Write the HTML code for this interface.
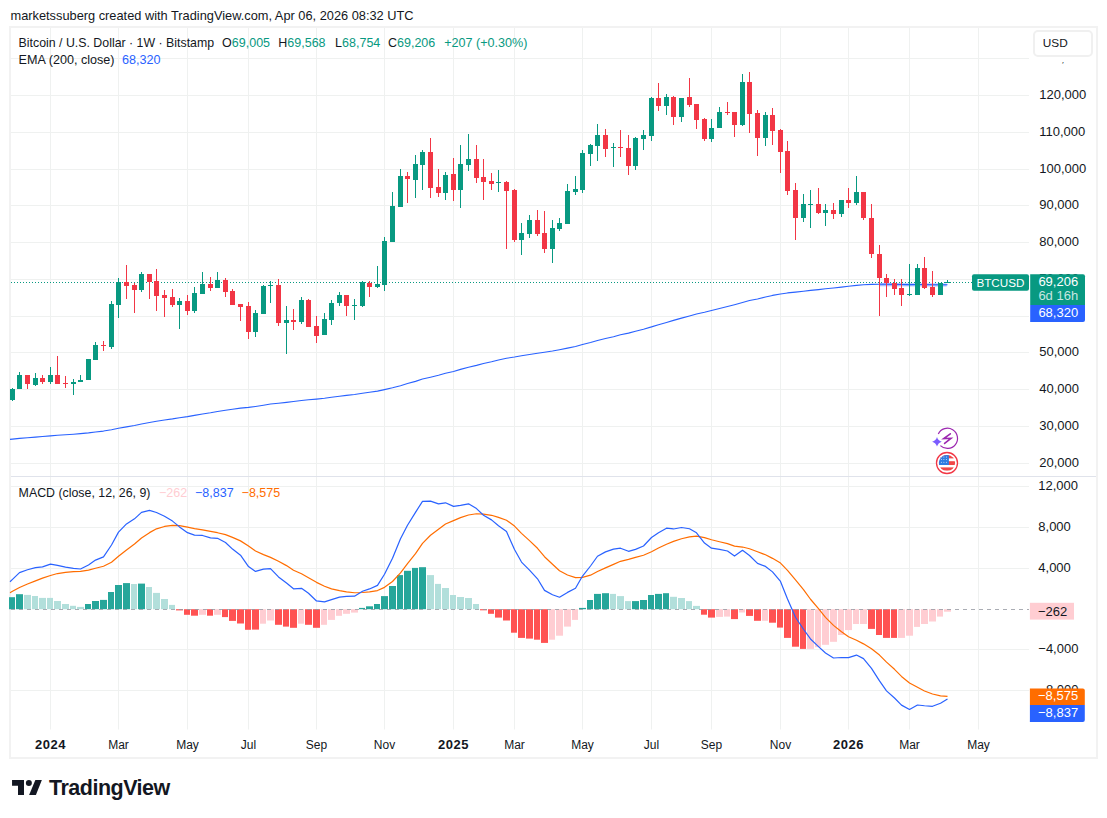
<!DOCTYPE html>
<html><head><meta charset="utf-8">
<style>
html,body{margin:0;padding:0;background:#fff;}
body{width:1107px;height:818px;position:relative;overflow:hidden;font-family:"Liberation Sans",sans-serif;}
.t{position:absolute;white-space:nowrap;line-height:1;}
#frame{position:absolute;left:9px;top:26px;width:1089px;height:733px;box-sizing:border-box;border:2px solid #f2f2f2;}
svg{position:absolute;left:0;top:0;}
</style></head><body>
<div id="frame"></div>
<svg width="1107" height="818" viewBox="0 0 1107 818">
<line x1="50.5" y1="28" x2="50.5" y2="729.5" stroke="#eff1f0" stroke-width="1"/>
<line x1="118.5" y1="28" x2="118.5" y2="729.5" stroke="#eff1f0" stroke-width="1"/>
<line x1="187.5" y1="28" x2="187.5" y2="729.5" stroke="#eff1f0" stroke-width="1"/>
<line x1="248.5" y1="28" x2="248.5" y2="729.5" stroke="#eff1f0" stroke-width="1"/>
<line x1="316.5" y1="28" x2="316.5" y2="729.5" stroke="#eff1f0" stroke-width="1"/>
<line x1="384.5" y1="28" x2="384.5" y2="729.5" stroke="#eff1f0" stroke-width="1"/>
<line x1="453.5" y1="28" x2="453.5" y2="729.5" stroke="#eff1f0" stroke-width="1"/>
<line x1="514.5" y1="28" x2="514.5" y2="729.5" stroke="#eff1f0" stroke-width="1"/>
<line x1="582.5" y1="28" x2="582.5" y2="729.5" stroke="#eff1f0" stroke-width="1"/>
<line x1="651.5" y1="28" x2="651.5" y2="729.5" stroke="#eff1f0" stroke-width="1"/>
<line x1="711.5" y1="28" x2="711.5" y2="729.5" stroke="#eff1f0" stroke-width="1"/>
<line x1="780.5" y1="28" x2="780.5" y2="729.5" stroke="#eff1f0" stroke-width="1"/>
<line x1="848.5" y1="28" x2="848.5" y2="729.5" stroke="#eff1f0" stroke-width="1"/>
<line x1="909.5" y1="28" x2="909.5" y2="729.5" stroke="#eff1f0" stroke-width="1"/>
<line x1="978.5" y1="28" x2="978.5" y2="729.5" stroke="#eff1f0" stroke-width="1"/>
<line x1="11" y1="58.5" x2="1029" y2="58.5" stroke="#eff1f0" stroke-width="1"/>
<line x1="11" y1="95.5" x2="1029" y2="95.5" stroke="#eff1f0" stroke-width="1"/>
<line x1="11" y1="132.5" x2="1029" y2="132.5" stroke="#eff1f0" stroke-width="1"/>
<line x1="11" y1="169.5" x2="1029" y2="169.5" stroke="#eff1f0" stroke-width="1"/>
<line x1="11" y1="205.5" x2="1029" y2="205.5" stroke="#eff1f0" stroke-width="1"/>
<line x1="11" y1="242.5" x2="1029" y2="242.5" stroke="#eff1f0" stroke-width="1"/>
<line x1="11" y1="279.5" x2="1029" y2="279.5" stroke="#eff1f0" stroke-width="1"/>
<line x1="11" y1="316.5" x2="1029" y2="316.5" stroke="#eff1f0" stroke-width="1"/>
<line x1="11" y1="352.5" x2="1029" y2="352.5" stroke="#eff1f0" stroke-width="1"/>
<line x1="11" y1="389.5" x2="1029" y2="389.5" stroke="#eff1f0" stroke-width="1"/>
<line x1="11" y1="426.5" x2="1029" y2="426.5" stroke="#eff1f0" stroke-width="1"/>
<line x1="11" y1="463.5" x2="1029" y2="463.5" stroke="#eff1f0" stroke-width="1"/>
<line x1="11" y1="486.5" x2="1029" y2="486.5" stroke="#eff1f0" stroke-width="1"/>
<line x1="11" y1="527.5" x2="1029" y2="527.5" stroke="#eff1f0" stroke-width="1"/>
<line x1="11" y1="568.5" x2="1029" y2="568.5" stroke="#eff1f0" stroke-width="1"/>
<line x1="11" y1="649.5" x2="1029" y2="649.5" stroke="#eff1f0" stroke-width="1"/>
<line x1="11" y1="690.5" x2="1029" y2="690.5" stroke="#eff1f0" stroke-width="1"/>
<line x1="11" y1="476.5" x2="1096" y2="476.5" stroke="#e0e3eb" stroke-width="1"/>
<polyline points="10,439.36 12.5,439.11 19.5,438.4 27.5,437.79 35.5,437.12 42.5,436.52 50.5,435.86 57.5,435.3 65.5,434.74 73.5,434.18 80.5,433.62 88.5,432.84 95.5,431.95 103.5,431.08 111.5,429.79 118.5,428.31 126.5,426.88 134.5,425.5 141.5,423.98 149.5,422.55 156.5,421.28 164.5,420.04 172.5,418.88 179.5,417.7 187.5,416.63 194.5,415.39 202.5,414.07 210.5,412.8 217.5,411.47 225.5,410.27 232.5,409.21 240.5,408.17 248.5,407.4 255.5,406.44 263.5,405.23 270.5,404.02 278.5,403.2 286.5,402.35 293.5,401.54 301.5,400.51 308.5,399.76 316.5,399.1 324.5,398.28 331.5,397.32 339.5,396.29 346.5,395.37 354.5,394.45 362.5,393.31 369.5,392.24 377.5,391.14 384.5,389.63 392.5,387.78 400.5,385.66 407.5,383.58 415.5,381.38 422.5,379.08 430.5,377.16 438.5,375.31 445.5,373.3 453.5,371.45 460.5,369.38 468.5,367.27 476.5,365.37 483.5,363.54 491.5,361.73 498.5,359.93 506.5,358.24 514.5,357.05 521.5,355.81 529.5,354.45 537.5,353.24 544.5,352.2 552.5,350.95 559.5,349.68 567.5,348.09 575.5,346.5 582.5,344.57 590.5,342.58 597.5,340.51 605.5,338.59 613.5,336.68 620.5,334.8 628.5,333.11 635.5,331.16 643.5,329.2 651.5,326.89 658.5,324.69 666.5,322.41 673.5,320.36 681.5,318.14 689.5,316.0 696.5,314.04 704.5,312.29 711.5,310.44 719.5,308.46 727.5,306.5 734.5,304.68 742.5,302.45 749.5,300.56 757.5,298.92 765.5,297.08 772.5,295.41 780.5,293.96 787.5,292.92 795.5,292.16 803.5,291.26 810.5,290.38 818.5,289.59 825.5,288.79 833.5,288.03 841.5,287.14 848.5,286.29 856.5,285.35 863.5,284.68 871.5,284.38 879.5,284.32 886.5,284.32 894.5,284.37 901.5,284.49 909.5,284.61 917.5,284.47 924.5,284.54 932.5,284.69 940.5,284.73 947.5,284.77" fill="none" stroke="#2962FF" stroke-width="1.1" stroke-linejoin="round"/>
<polyline points="879.1,284.7 946.7,285.0" fill="none" stroke="#2962FF" stroke-opacity="0.4" stroke-width="3.2"/>
<line x1="11" y1="282.5" x2="972" y2="282.5" stroke="#089981" stroke-width="1" stroke-dasharray="1 2"/>
<rect x="12" y="388" width="1" height="13" fill="#089981"/>
<rect x="10" y="389" width="5" height="11" fill="#089981"/>
<rect x="19" y="372" width="1" height="17" fill="#089981"/>
<rect x="17" y="375" width="5" height="14" fill="#089981"/>
<rect x="27" y="375" width="1" height="14" fill="#F23645"/>
<rect x="25" y="375" width="5" height="9" fill="#F23645"/>
<rect x="35" y="373" width="1" height="13" fill="#089981"/>
<rect x="33" y="378" width="5" height="7" fill="#089981"/>
<rect x="42" y="375" width="1" height="9" fill="#F23645"/>
<rect x="40" y="378" width="5" height="4" fill="#F23645"/>
<rect x="50" y="367" width="1" height="17" fill="#089981"/>
<rect x="48" y="375" width="5" height="7" fill="#089981"/>
<rect x="57" y="356" width="1" height="28" fill="#F23645"/>
<rect x="55" y="375" width="5" height="9" fill="#F23645"/>
<rect x="65" y="376" width="1" height="12" fill="#F23645"/>
<rect x="63" y="383" width="5" height="1" fill="#F23645"/>
<rect x="73" y="379" width="1" height="16" fill="#089981"/>
<rect x="71" y="382" width="5" height="2" fill="#089981"/>
<rect x="80" y="375" width="1" height="7" fill="#089981"/>
<rect x="78" y="380" width="5" height="2" fill="#089981"/>
<rect x="88" y="359" width="1" height="21" fill="#089981"/>
<rect x="86" y="359" width="5" height="21" fill="#089981"/>
<rect x="95" y="342" width="1" height="18" fill="#089981"/>
<rect x="93" y="345" width="5" height="15" fill="#089981"/>
<rect x="103" y="341" width="1" height="10" fill="#F23645"/>
<rect x="101" y="345" width="5" height="1" fill="#F23645"/>
<rect x="111" y="301" width="1" height="48" fill="#089981"/>
<rect x="109" y="304" width="5" height="43" fill="#089981"/>
<rect x="118" y="278" width="1" height="40" fill="#089981"/>
<rect x="116" y="282" width="5" height="23" fill="#089981"/>
<rect x="126" y="265" width="1" height="34" fill="#F23645"/>
<rect x="124" y="282" width="5" height="4" fill="#F23645"/>
<rect x="134" y="283" width="1" height="30" fill="#F23645"/>
<rect x="132" y="285" width="5" height="5" fill="#F23645"/>
<rect x="141" y="272" width="1" height="20" fill="#089981"/>
<rect x="139" y="274" width="5" height="16" fill="#089981"/>
<rect x="149" y="274" width="1" height="25" fill="#F23645"/>
<rect x="147" y="274" width="5" height="8" fill="#F23645"/>
<rect x="156" y="269" width="1" height="42" fill="#F23645"/>
<rect x="154" y="281" width="5" height="15" fill="#F23645"/>
<rect x="164" y="290" width="1" height="27" fill="#F23645"/>
<rect x="162" y="295" width="5" height="3" fill="#F23645"/>
<rect x="172" y="289" width="1" height="18" fill="#F23645"/>
<rect x="170" y="297" width="5" height="8" fill="#F23645"/>
<rect x="179" y="298" width="1" height="31" fill="#089981"/>
<rect x="177" y="301" width="5" height="4" fill="#089981"/>
<rect x="187" y="295" width="1" height="20" fill="#F23645"/>
<rect x="185" y="301" width="5" height="10" fill="#F23645"/>
<rect x="194" y="287" width="1" height="26" fill="#089981"/>
<rect x="192" y="293" width="5" height="18" fill="#089981"/>
<rect x="202" y="272" width="1" height="22" fill="#089981"/>
<rect x="200" y="284" width="5" height="10" fill="#089981"/>
<rect x="210" y="277" width="1" height="14" fill="#F23645"/>
<rect x="208" y="284" width="5" height="4" fill="#F23645"/>
<rect x="217" y="272" width="1" height="16" fill="#089981"/>
<rect x="215" y="280" width="5" height="8" fill="#089981"/>
<rect x="225" y="278" width="1" height="19" fill="#F23645"/>
<rect x="223" y="280" width="5" height="12" fill="#F23645"/>
<rect x="232" y="289" width="1" height="16" fill="#F23645"/>
<rect x="230" y="291" width="5" height="14" fill="#F23645"/>
<rect x="240" y="304" width="1" height="17" fill="#F23645"/>
<rect x="238" y="304" width="5" height="3" fill="#F23645"/>
<rect x="248" y="302" width="1" height="37" fill="#F23645"/>
<rect x="246" y="306" width="5" height="26" fill="#F23645"/>
<rect x="255" y="310" width="1" height="27" fill="#089981"/>
<rect x="253" y="313" width="5" height="19" fill="#089981"/>
<rect x="263" y="285" width="1" height="29" fill="#089981"/>
<rect x="261" y="286" width="5" height="28" fill="#089981"/>
<rect x="270" y="281" width="1" height="22" fill="#089981"/>
<rect x="268" y="285" width="5" height="1" fill="#089981"/>
<rect x="278" y="279" width="1" height="47" fill="#F23645"/>
<rect x="276" y="285" width="5" height="38" fill="#F23645"/>
<rect x="286" y="306" width="1" height="48" fill="#089981"/>
<rect x="284" y="320" width="5" height="3" fill="#089981"/>
<rect x="293" y="309" width="1" height="21" fill="#F23645"/>
<rect x="291" y="320" width="5" height="2" fill="#F23645"/>
<rect x="301" y="297" width="1" height="27" fill="#089981"/>
<rect x="299" y="300" width="5" height="22" fill="#089981"/>
<rect x="308" y="299" width="1" height="28" fill="#F23645"/>
<rect x="306" y="300" width="5" height="27" fill="#F23645"/>
<rect x="316" y="316" width="1" height="27" fill="#F23645"/>
<rect x="314" y="326" width="5" height="10" fill="#F23645"/>
<rect x="324" y="313" width="1" height="22" fill="#089981"/>
<rect x="322" y="319" width="5" height="16" fill="#089981"/>
<rect x="331" y="300" width="1" height="25" fill="#089981"/>
<rect x="329" y="303" width="5" height="17" fill="#089981"/>
<rect x="339" y="292" width="1" height="14" fill="#089981"/>
<rect x="337" y="295" width="5" height="8" fill="#089981"/>
<rect x="346" y="295" width="1" height="21" fill="#F23645"/>
<rect x="344" y="295" width="5" height="11" fill="#F23645"/>
<rect x="354" y="299" width="1" height="21" fill="#089981"/>
<rect x="352" y="305" width="5" height="1" fill="#089981"/>
<rect x="362" y="281" width="1" height="26" fill="#089981"/>
<rect x="360" y="282" width="5" height="24" fill="#089981"/>
<rect x="369" y="281" width="1" height="16" fill="#F23645"/>
<rect x="367" y="283" width="5" height="4" fill="#F23645"/>
<rect x="377" y="266" width="1" height="22" fill="#089981"/>
<rect x="375" y="284" width="5" height="3" fill="#089981"/>
<rect x="384" y="237" width="1" height="54" fill="#089981"/>
<rect x="382" y="241" width="5" height="44" fill="#089981"/>
<rect x="392" y="192" width="1" height="50" fill="#089981"/>
<rect x="390" y="206" width="5" height="36" fill="#089981"/>
<rect x="400" y="169" width="1" height="38" fill="#089981"/>
<rect x="398" y="176" width="5" height="31" fill="#089981"/>
<rect x="407" y="172" width="1" height="31" fill="#F23645"/>
<rect x="405" y="176" width="5" height="3" fill="#F23645"/>
<rect x="415" y="155" width="1" height="43" fill="#089981"/>
<rect x="413" y="164" width="5" height="16" fill="#089981"/>
<rect x="422" y="150" width="1" height="40" fill="#089981"/>
<rect x="420" y="152" width="5" height="13" fill="#089981"/>
<rect x="430" y="138" width="1" height="60" fill="#F23645"/>
<rect x="428" y="152" width="5" height="36" fill="#F23645"/>
<rect x="438" y="169" width="1" height="28" fill="#F23645"/>
<rect x="436" y="187" width="5" height="6" fill="#F23645"/>
<rect x="445" y="172" width="1" height="28" fill="#089981"/>
<rect x="443" y="175" width="5" height="18" fill="#089981"/>
<rect x="453" y="158" width="1" height="43" fill="#F23645"/>
<rect x="451" y="174" width="5" height="16" fill="#F23645"/>
<rect x="460" y="145" width="1" height="63" fill="#089981"/>
<rect x="458" y="164" width="5" height="26" fill="#089981"/>
<rect x="468" y="134" width="1" height="37" fill="#089981"/>
<rect x="466" y="159" width="5" height="6" fill="#089981"/>
<rect x="476" y="145" width="1" height="38" fill="#F23645"/>
<rect x="474" y="159" width="5" height="19" fill="#F23645"/>
<rect x="483" y="159" width="1" height="41" fill="#F23645"/>
<rect x="481" y="177" width="5" height="5" fill="#F23645"/>
<rect x="491" y="173" width="1" height="17" fill="#F23645"/>
<rect x="489" y="181" width="5" height="3" fill="#F23645"/>
<rect x="498" y="170" width="1" height="22" fill="#089981"/>
<rect x="496" y="182" width="5" height="1" fill="#089981"/>
<rect x="506" y="181" width="1" height="68" fill="#F23645"/>
<rect x="504" y="182" width="5" height="9" fill="#F23645"/>
<rect x="514" y="189" width="1" height="53" fill="#F23645"/>
<rect x="512" y="190" width="5" height="50" fill="#F23645"/>
<rect x="521" y="223" width="1" height="32" fill="#089981"/>
<rect x="519" y="233" width="5" height="7" fill="#089981"/>
<rect x="529" y="215" width="1" height="23" fill="#089981"/>
<rect x="527" y="220" width="5" height="14" fill="#089981"/>
<rect x="537" y="210" width="1" height="26" fill="#F23645"/>
<rect x="535" y="220" width="5" height="14" fill="#F23645"/>
<rect x="544" y="211" width="1" height="42" fill="#F23645"/>
<rect x="542" y="233" width="5" height="16" fill="#F23645"/>
<rect x="552" y="220" width="1" height="43" fill="#089981"/>
<rect x="550" y="228" width="5" height="21" fill="#089981"/>
<rect x="559" y="218" width="1" height="13" fill="#089981"/>
<rect x="557" y="223" width="5" height="6" fill="#089981"/>
<rect x="567" y="184" width="1" height="40" fill="#089981"/>
<rect x="565" y="191" width="5" height="33" fill="#089981"/>
<rect x="575" y="176" width="1" height="19" fill="#089981"/>
<rect x="573" y="189" width="5" height="3" fill="#089981"/>
<rect x="582" y="150" width="1" height="43" fill="#089981"/>
<rect x="580" y="153" width="5" height="37" fill="#089981"/>
<rect x="590" y="144" width="1" height="22" fill="#089981"/>
<rect x="588" y="145" width="5" height="9" fill="#089981"/>
<rect x="597" y="124" width="1" height="37" fill="#089981"/>
<rect x="595" y="135" width="5" height="11" fill="#089981"/>
<rect x="605" y="129" width="1" height="28" fill="#F23645"/>
<rect x="603" y="135" width="5" height="14" fill="#F23645"/>
<rect x="613" y="143" width="1" height="24" fill="#089981"/>
<rect x="611" y="147" width="5" height="1" fill="#089981"/>
<rect x="620" y="130" width="1" height="27" fill="#F23645"/>
<rect x="618" y="147" width="5" height="1" fill="#F23645"/>
<rect x="628" y="135" width="1" height="40" fill="#F23645"/>
<rect x="626" y="148" width="5" height="18" fill="#F23645"/>
<rect x="635" y="137" width="1" height="33" fill="#089981"/>
<rect x="633" y="138" width="5" height="28" fill="#089981"/>
<rect x="643" y="130" width="1" height="20" fill="#089981"/>
<rect x="641" y="135" width="5" height="4" fill="#089981"/>
<rect x="651" y="97" width="1" height="44" fill="#089981"/>
<rect x="649" y="98" width="5" height="38" fill="#089981"/>
<rect x="658" y="83" width="1" height="28" fill="#F23645"/>
<rect x="656" y="98" width="5" height="8" fill="#F23645"/>
<rect x="666" y="94" width="1" height="21" fill="#089981"/>
<rect x="664" y="97" width="5" height="9" fill="#089981"/>
<rect x="673" y="96" width="1" height="29" fill="#F23645"/>
<rect x="671" y="97" width="5" height="20" fill="#F23645"/>
<rect x="681" y="98" width="1" height="24" fill="#089981"/>
<rect x="679" y="98" width="5" height="19" fill="#089981"/>
<rect x="689" y="78" width="1" height="29" fill="#F23645"/>
<rect x="687" y="97" width="5" height="8" fill="#F23645"/>
<rect x="696" y="104" width="1" height="25" fill="#F23645"/>
<rect x="694" y="104" width="5" height="16" fill="#F23645"/>
<rect x="704" y="118" width="1" height="23" fill="#F23645"/>
<rect x="702" y="119" width="5" height="20" fill="#F23645"/>
<rect x="711" y="119" width="1" height="23" fill="#089981"/>
<rect x="709" y="128" width="5" height="11" fill="#089981"/>
<rect x="719" y="107" width="1" height="21" fill="#089981"/>
<rect x="717" y="112" width="5" height="16" fill="#089981"/>
<rect x="727" y="102" width="1" height="13" fill="#F23645"/>
<rect x="725" y="112" width="5" height="1" fill="#F23645"/>
<rect x="734" y="112" width="1" height="25" fill="#F23645"/>
<rect x="732" y="112" width="5" height="13" fill="#F23645"/>
<rect x="742" y="74" width="1" height="52" fill="#089981"/>
<rect x="740" y="82" width="5" height="43" fill="#089981"/>
<rect x="749" y="72" width="1" height="61" fill="#F23645"/>
<rect x="747" y="82" width="5" height="32" fill="#F23645"/>
<rect x="757" y="110" width="1" height="46" fill="#F23645"/>
<rect x="755" y="113" width="5" height="25" fill="#F23645"/>
<rect x="765" y="112" width="1" height="34" fill="#089981"/>
<rect x="763" y="115" width="5" height="23" fill="#089981"/>
<rect x="772" y="108" width="1" height="37" fill="#F23645"/>
<rect x="770" y="115" width="5" height="16" fill="#F23645"/>
<rect x="780" y="129" width="1" height="44" fill="#F23645"/>
<rect x="778" y="130" width="5" height="22" fill="#F23645"/>
<rect x="787" y="141" width="1" height="54" fill="#F23645"/>
<rect x="785" y="151" width="5" height="40" fill="#F23645"/>
<rect x="795" y="183" width="1" height="57" fill="#F23645"/>
<rect x="793" y="190" width="5" height="28" fill="#F23645"/>
<rect x="803" y="194" width="1" height="28" fill="#089981"/>
<rect x="801" y="204" width="5" height="14" fill="#089981"/>
<rect x="810" y="190" width="1" height="38" fill="#089981"/>
<rect x="808" y="204" width="5" height="1" fill="#089981"/>
<rect x="818" y="188" width="1" height="26" fill="#F23645"/>
<rect x="816" y="204" width="5" height="9" fill="#F23645"/>
<rect x="825" y="204" width="1" height="22" fill="#089981"/>
<rect x="823" y="210" width="5" height="3" fill="#089981"/>
<rect x="833" y="203" width="1" height="16" fill="#F23645"/>
<rect x="831" y="210" width="5" height="4" fill="#F23645"/>
<rect x="841" y="200" width="1" height="17" fill="#089981"/>
<rect x="839" y="200" width="5" height="14" fill="#089981"/>
<rect x="848" y="188" width="1" height="20" fill="#F23645"/>
<rect x="846" y="200" width="5" height="3" fill="#F23645"/>
<rect x="856" y="176" width="1" height="29" fill="#089981"/>
<rect x="854" y="192" width="5" height="11" fill="#089981"/>
<rect x="863" y="192" width="1" height="28" fill="#F23645"/>
<rect x="861" y="192" width="5" height="26" fill="#F23645"/>
<rect x="871" y="204" width="1" height="54" fill="#F23645"/>
<rect x="869" y="218" width="5" height="36" fill="#F23645"/>
<rect x="879" y="245" width="1" height="71" fill="#F23645"/>
<rect x="877" y="254" width="5" height="24" fill="#F23645"/>
<rect x="886" y="274" width="1" height="23" fill="#F23645"/>
<rect x="884" y="278" width="5" height="5" fill="#F23645"/>
<rect x="894" y="279" width="1" height="16" fill="#F23645"/>
<rect x="892" y="283" width="5" height="6" fill="#F23645"/>
<rect x="901" y="279" width="1" height="27" fill="#F23645"/>
<rect x="899" y="288" width="5" height="7" fill="#F23645"/>
<rect x="909" y="264" width="1" height="32" fill="#089981"/>
<rect x="907" y="294" width="5" height="1" fill="#089981"/>
<rect x="917" y="264" width="1" height="31" fill="#089981"/>
<rect x="915" y="268" width="5" height="27" fill="#089981"/>
<rect x="924" y="257" width="1" height="32" fill="#F23645"/>
<rect x="922" y="268" width="5" height="20" fill="#F23645"/>
<rect x="932" y="271" width="1" height="26" fill="#F23645"/>
<rect x="930" y="287" width="5" height="8" fill="#F23645"/>
<rect x="940" y="283" width="1" height="12" fill="#089981"/>
<rect x="938" y="283" width="5" height="12" fill="#089981"/>
<rect x="947" y="280" width="1" height="3" fill="#089981"/>
<rect x="945" y="282" width="5" height="1" fill="#089981"/>
<rect x="9" y="597.2" width="6" height="12.0" fill="#26A69A"/>
<rect x="16" y="594.2" width="7" height="15.0" fill="#26A69A"/>
<rect x="24" y="594.9" width="7" height="14.3" fill="#B2DFDB"/>
<rect x="32" y="596.0" width="6" height="13.2" fill="#B2DFDB"/>
<rect x="39" y="597.9" width="7" height="11.3" fill="#B2DFDB"/>
<rect x="47" y="597.9" width="6" height="11.3" fill="#B2DFDB"/>
<rect x="54" y="601.0" width="7" height="8.2" fill="#B2DFDB"/>
<rect x="62" y="604.0" width="7" height="5.2" fill="#B2DFDB"/>
<rect x="70" y="605.8" width="6" height="3.4" fill="#B2DFDB"/>
<rect x="77" y="606.9" width="7" height="2.3" fill="#B2DFDB"/>
<rect x="85" y="604.0" width="6" height="5.2" fill="#26A69A"/>
<rect x="92" y="601.0" width="7" height="8.2" fill="#26A69A"/>
<rect x="100" y="599.9" width="7" height="9.3" fill="#26A69A"/>
<rect x="108" y="592.0" width="6" height="17.2" fill="#26A69A"/>
<rect x="115" y="585.0" width="7" height="24.2" fill="#26A69A"/>
<rect x="123" y="583.1" width="7" height="26.1" fill="#26A69A"/>
<rect x="131" y="584.0" width="6" height="25.2" fill="#B2DFDB"/>
<rect x="138" y="583.6" width="7" height="25.6" fill="#26A69A"/>
<rect x="146" y="587.0" width="6" height="22.2" fill="#B2DFDB"/>
<rect x="153" y="592.9" width="7" height="16.3" fill="#B2DFDB"/>
<rect x="161" y="599.0" width="7" height="10.2" fill="#B2DFDB"/>
<rect x="169" y="604.9" width="6" height="4.3" fill="#B2DFDB"/>
<rect x="176" y="609.2" width="7" height="1.2" fill="#FF5252"/>
<rect x="184" y="609.2" width="6" height="5.6" fill="#FF5252"/>
<rect x="191" y="609.2" width="7" height="6.5" fill="#FF5252"/>
<rect x="199" y="609.2" width="7" height="5.6" fill="#FFCDD2"/>
<rect x="207" y="609.2" width="6" height="6.5" fill="#FF5252"/>
<rect x="214" y="609.2" width="7" height="5.6" fill="#FFCDD2"/>
<rect x="222" y="609.2" width="6" height="7.9" fill="#FF5252"/>
<rect x="229" y="609.2" width="7" height="11.7" fill="#FF5252"/>
<rect x="237" y="609.2" width="7" height="14.3" fill="#FF5252"/>
<rect x="245" y="609.2" width="6" height="20.6" fill="#FF5252"/>
<rect x="252" y="609.2" width="7" height="20.4" fill="#FF5252"/>
<rect x="260" y="609.2" width="6" height="14.5" fill="#FFCDD2"/>
<rect x="267" y="609.2" width="7" height="11.3" fill="#FFCDD2"/>
<rect x="275" y="609.2" width="7" height="15.6" fill="#FF5252"/>
<rect x="283" y="609.2" width="6" height="17.4" fill="#FF5252"/>
<rect x="290" y="609.2" width="7" height="18.6" fill="#FF5252"/>
<rect x="298" y="609.2" width="6" height="14.5" fill="#FFCDD2"/>
<rect x="305" y="609.2" width="7" height="15.6" fill="#FF5252"/>
<rect x="313" y="609.2" width="7" height="18.6" fill="#FF5252"/>
<rect x="321" y="609.2" width="6" height="15.6" fill="#FFCDD2"/>
<rect x="328" y="609.2" width="7" height="10.7" fill="#FFCDD2"/>
<rect x="336" y="609.2" width="6" height="6.6" fill="#FFCDD2"/>
<rect x="343" y="609.2" width="7" height="4.6" fill="#FFCDD2"/>
<rect x="351" y="609.2" width="7" height="3.4" fill="#FFCDD2"/>
<rect x="359" y="607.9" width="6" height="1.3" fill="#26A69A"/>
<rect x="366" y="606.3" width="7" height="2.9" fill="#26A69A"/>
<rect x="374" y="604.0" width="6" height="5.2" fill="#26A69A"/>
<rect x="381" y="596.1" width="7" height="13.1" fill="#26A69A"/>
<rect x="389" y="586.0" width="7" height="23.2" fill="#26A69A"/>
<rect x="397" y="575.1" width="6" height="34.1" fill="#26A69A"/>
<rect x="404" y="570.8" width="7" height="38.4" fill="#26A69A"/>
<rect x="412" y="567.9" width="6" height="41.3" fill="#26A69A"/>
<rect x="419" y="567.2" width="7" height="42.0" fill="#26A69A"/>
<rect x="427" y="575.1" width="7" height="34.1" fill="#B2DFDB"/>
<rect x="435" y="583.9" width="6" height="25.3" fill="#B2DFDB"/>
<rect x="442" y="588.0" width="7" height="21.2" fill="#B2DFDB"/>
<rect x="450" y="595.0" width="6" height="14.2" fill="#B2DFDB"/>
<rect x="457" y="597.0" width="7" height="12.2" fill="#B2DFDB"/>
<rect x="465" y="598.0" width="7" height="11.2" fill="#B2DFDB"/>
<rect x="473" y="604.0" width="6" height="5.2" fill="#B2DFDB"/>
<rect x="480" y="609.2" width="7" height="1.1" fill="#FF5252"/>
<rect x="488" y="609.2" width="6" height="4.6" fill="#FF5252"/>
<rect x="495" y="609.2" width="7" height="8.4" fill="#FF5252"/>
<rect x="503" y="609.2" width="7" height="11.3" fill="#FF5252"/>
<rect x="511" y="609.2" width="6" height="23.5" fill="#FF5252"/>
<rect x="518" y="609.2" width="7" height="28.7" fill="#FF5252"/>
<rect x="526" y="609.2" width="7" height="29.4" fill="#FF5252"/>
<rect x="534" y="609.2" width="6" height="30.5" fill="#FF5252"/>
<rect x="541" y="609.2" width="7" height="33.7" fill="#FF5252"/>
<rect x="549" y="609.2" width="6" height="30.5" fill="#FFCDD2"/>
<rect x="556" y="609.2" width="7" height="26.5" fill="#FFCDD2"/>
<rect x="564" y="609.2" width="7" height="17.4" fill="#FFCDD2"/>
<rect x="572" y="609.2" width="6" height="10.7" fill="#FFCDD2"/>
<rect x="579" y="607.9" width="7" height="1.3" fill="#26A69A"/>
<rect x="587" y="600.0" width="6" height="9.2" fill="#26A69A"/>
<rect x="594" y="593.9" width="7" height="15.3" fill="#26A69A"/>
<rect x="602" y="593.2" width="7" height="16.0" fill="#26A69A"/>
<rect x="610" y="593.9" width="6" height="15.3" fill="#B2DFDB"/>
<rect x="617" y="596.1" width="7" height="13.1" fill="#B2DFDB"/>
<rect x="625" y="601.1" width="6" height="8.1" fill="#B2DFDB"/>
<rect x="632" y="601.1" width="7" height="8.1" fill="#26A69A"/>
<rect x="640" y="600.0" width="7" height="9.2" fill="#26A69A"/>
<rect x="648" y="595.0" width="6" height="14.2" fill="#26A69A"/>
<rect x="655" y="593.9" width="7" height="15.3" fill="#26A69A"/>
<rect x="663" y="593.2" width="6" height="16.0" fill="#26A69A"/>
<rect x="670" y="596.8" width="7" height="12.4" fill="#B2DFDB"/>
<rect x="678" y="598.0" width="7" height="11.2" fill="#B2DFDB"/>
<rect x="686" y="601.1" width="6" height="8.1" fill="#B2DFDB"/>
<rect x="693" y="605.9" width="7" height="3.3" fill="#B2DFDB"/>
<rect x="701" y="609.2" width="6" height="5.5" fill="#FF5252"/>
<rect x="708" y="609.2" width="7" height="8.4" fill="#FF5252"/>
<rect x="716" y="609.2" width="7" height="7.7" fill="#FFCDD2"/>
<rect x="724" y="609.2" width="6" height="7.4" fill="#FFCDD2"/>
<rect x="731" y="609.2" width="7" height="9.9" fill="#FF5252"/>
<rect x="739" y="609.2" width="6" height="3.3" fill="#FFCDD2"/>
<rect x="746" y="609.2" width="7" height="6.7" fill="#FF5252"/>
<rect x="754" y="609.2" width="7" height="11.6" fill="#FF5252"/>
<rect x="762" y="609.2" width="6" height="11.6" fill="#FFCDD2"/>
<rect x="769" y="609.2" width="7" height="13.5" fill="#FF5252"/>
<rect x="777" y="609.2" width="6" height="18.4" fill="#FF5252"/>
<rect x="784" y="609.2" width="7" height="28.7" fill="#FF5252"/>
<rect x="792" y="609.2" width="7" height="37.5" fill="#FF5252"/>
<rect x="800" y="609.2" width="6" height="39.7" fill="#FF5252"/>
<rect x="807" y="609.2" width="7" height="39.7" fill="#FFCDD2"/>
<rect x="815" y="609.2" width="6" height="38.0" fill="#FFCDD2"/>
<rect x="822" y="609.2" width="7" height="35.6" fill="#FFCDD2"/>
<rect x="830" y="609.2" width="7" height="32.6" fill="#FFCDD2"/>
<rect x="838" y="609.2" width="6" height="25.8" fill="#FFCDD2"/>
<rect x="845" y="609.2" width="7" height="20.9" fill="#FFCDD2"/>
<rect x="853" y="609.2" width="6" height="14.8" fill="#FFCDD2"/>
<rect x="860" y="609.2" width="7" height="14.8" fill="#FFCDD2"/>
<rect x="868" y="609.2" width="7" height="19.7" fill="#FF5252"/>
<rect x="876" y="609.2" width="6" height="25.8" fill="#FF5252"/>
<rect x="883" y="609.2" width="7" height="28.7" fill="#FF5252"/>
<rect x="891" y="609.2" width="6" height="28.7" fill="#FF5252"/>
<rect x="898" y="609.2" width="7" height="28.7" fill="#FFCDD2"/>
<rect x="906" y="609.2" width="7" height="26.5" fill="#FFCDD2"/>
<rect x="914" y="609.2" width="6" height="17.7" fill="#FFCDD2"/>
<rect x="921" y="609.2" width="7" height="14.8" fill="#FFCDD2"/>
<rect x="929" y="609.2" width="7" height="12.3" fill="#FFCDD2"/>
<rect x="937" y="609.2" width="6" height="7.4" fill="#FFCDD2"/>
<rect x="944" y="609.2" width="7" height="2.5" fill="#FFCDD2"/>
<line x1="11" y1="609.5" x2="1029" y2="609.5" stroke="#9598a1" stroke-width="1" stroke-dasharray="4 4" stroke-opacity="0.8"/>
<polyline points="10.0,592.69 12.5,591.34 19.5,587.56 27.5,584.05 35.5,580.83 42.5,578.14 50.5,575.46 57.5,573.54 65.5,572.37 73.5,571.71 80.5,571.32 88.5,570.16 95.5,568.27 103.5,566.22 111.5,562.17 118.5,556.32 126.5,550.0 134.5,544.03 141.5,537.93 149.5,532.64 156.5,528.82 164.5,526.46 172.5,525.39 179.5,525.71 187.5,527.09 194.5,528.6 202.5,529.87 210.5,531.37 217.5,532.71 225.5,534.58 232.5,537.39 240.5,540.87 248.5,545.96 255.5,551.02 263.5,554.61 270.5,557.4 278.5,561.31 286.5,565.61 293.5,570.21 301.5,573.79 308.5,577.7 316.5,582.35 324.5,586.25 331.5,588.92 339.5,590.56 346.5,591.82 354.5,592.75 362.5,592.51 369.5,591.83 377.5,590.57 384.5,587.34 392.5,581.47 400.5,572.9 407.5,563.7 415.5,553.63 422.5,543.38 430.5,535.24 438.5,529.16 445.5,524.0 453.5,520.61 460.5,517.64 468.5,514.99 476.5,513.77 483.5,514.1 491.5,515.29 498.5,517.4 506.5,520.21 514.5,526.08 521.5,533.37 529.5,540.68 537.5,548.29 544.5,556.69 552.5,564.21 559.5,570.74 567.5,574.99 575.5,577.62 582.5,577.36 590.5,575.2 597.5,571.55 605.5,567.88 613.5,564.36 620.5,561.3 628.5,559.41 635.5,557.45 643.5,555.23 651.5,551.72 658.5,548.03 666.5,544.2 673.5,541.37 681.5,538.71 689.5,536.82 696.5,536.14 704.5,537.56 711.5,539.74 719.5,541.73 727.5,543.63 734.5,546.14 742.5,547.04 749.5,548.76 757.5,551.81 765.5,554.81 772.5,558.35 780.5,563.08 787.5,570.37 795.5,579.77 803.5,589.53 810.5,599.26 818.5,608.57 825.5,617.36 833.5,625.39 841.5,631.69 848.5,636.75 856.5,640.26 863.5,643.85 871.5,648.68 879.5,655.08 886.5,662.17 894.5,669.31 901.5,676.42 909.5,682.96 917.5,687.32 924.5,690.96 932.5,694.0 940.5,695.83 947.5,696.45" fill="none" stroke="#FF6D00" stroke-width="1.2" stroke-linejoin="round"/>
<polyline points="10.0,581.76 12.5,579.34 19.5,572.56 27.5,569.75 35.5,567.63 42.5,566.84 50.5,564.16 57.5,565.34 65.5,567.17 73.5,568.31 80.5,569.02 88.5,564.96 95.5,560.07 103.5,556.92 111.5,544.97 118.5,532.12 126.5,523.9 134.5,518.83 141.5,512.33 149.5,510.44 156.5,512.52 164.5,516.26 172.5,521.09 179.5,526.91 187.5,532.69 194.5,535.1 202.5,535.47 210.5,537.87 217.5,538.31 225.5,542.48 232.5,549.09 240.5,555.17 248.5,566.56 255.5,571.42 263.5,569.11 270.5,568.7 278.5,576.91 286.5,583.01 293.5,588.81 301.5,588.29 308.5,593.3 316.5,600.95 324.5,601.85 331.5,599.62 339.5,597.16 346.5,596.42 354.5,596.15 362.5,591.21 369.5,588.93 377.5,585.37 384.5,574.24 392.5,558.27 400.5,538.8 407.5,525.3 415.5,512.33 422.5,501.38 430.5,501.14 438.5,503.86 445.5,502.8 453.5,506.41 460.5,505.44 468.5,503.79 476.5,508.57 483.5,515.2 491.5,519.89 498.5,525.8 506.5,531.51 514.5,549.58 521.5,562.07 529.5,570.08 537.5,578.79 544.5,590.39 552.5,594.71 559.5,597.24 567.5,592.39 575.5,588.32 582.5,576.06 590.5,566.0 597.5,556.25 605.5,551.88 613.5,549.06 620.5,548.2 628.5,551.31 635.5,549.35 643.5,546.03 651.5,537.52 658.5,532.73 666.5,528.2 673.5,528.97 681.5,527.51 689.5,528.72 696.5,532.84 704.5,543.06 711.5,548.14 719.5,549.43 727.5,551.03 734.5,556.04 742.5,550.34 749.5,555.46 757.5,563.41 765.5,566.41 772.5,571.85 780.5,581.48 787.5,599.07 795.5,617.27 803.5,629.23 810.5,638.96 818.5,646.57 825.5,652.96 833.5,657.99 841.5,657.49 848.5,657.65 856.5,655.06 863.5,658.65 871.5,668.38 879.5,680.88 886.5,690.87 894.5,698.01 901.5,705.12 909.5,709.46 917.5,705.02 924.5,705.76 932.5,706.3 940.5,703.23 947.5,698.95" fill="none" stroke="#2962FF" stroke-width="1.2" stroke-linejoin="round"/>
</svg>
<div class="t" style="left:10.5px;top:10.16px;font-size:12.8px;color:#131722;font-weight:normal;">marketssuberg created with TradingView.com, Apr 06, 2026 08:32 UTC</div>
<div class="t" style="left:18.6px;top:36.95px;font-size:12.35px;color:#131722;font-weight:normal;">Bitcoin / U.S. Dollar · 1W · Bitstamp</div>
<div class="t" style="left:222.1px;top:36.82px;font-size:12.5px;color:#131722;font-weight:normal;">O<span style="color:#089981">69,005</span></div>
<div class="t" style="left:278.3px;top:36.82px;font-size:12.5px;color:#131722;font-weight:normal;">H<span style="color:#089981">69,568</span></div>
<div class="t" style="left:335.1px;top:36.82px;font-size:12.5px;color:#131722;font-weight:normal;">L<span style="color:#089981">68,754</span></div>
<div class="t" style="left:388px;top:36.82px;font-size:12.5px;color:#131722;font-weight:normal;">C<span style="color:#089981">69,206</span></div>
<div class="t" style="left:444.2px;top:36.73px;font-size:12.6px;color:#089981;font-weight:normal;">+207 (+0.30%)</div>
<div class="t" style="left:18.6px;top:54.33px;font-size:12.6px;color:#131722;font-weight:normal;">EMA (200, close)</div>
<div class="t" style="left:122px;top:54.33px;font-size:12.6px;color:#2962FF;font-weight:normal;">68,320</div>
<div class="t" style="left:18.6px;top:486.74px;font-size:12.36px;color:#131722;font-weight:normal;">MACD (close, 12, 26, 9)</div>
<div class="t" style="left:159px;top:486.62px;font-size:12.5px;color:#FFCDD2;font-weight:normal;">−262</div>
<div class="t" style="left:195px;top:486.62px;font-size:12.5px;color:#2962FF;font-weight:normal;">−8,837</div>
<div class="t" style="left:241.6px;top:486.62px;font-size:12.5px;color:#FF6D00;font-weight:normal;">−8,575</div>
<div class="t" style="left:1039.2px;top:51.00px;font-size:13px;color:#131722;font-weight:normal;">130,000</div>
<div class="t" style="left:1039.2px;top:88.00px;font-size:13px;color:#131722;font-weight:normal;">120,000</div>
<div class="t" style="left:1039.2px;top:125.00px;font-size:13px;color:#131722;font-weight:normal;">110,000</div>
<div class="t" style="left:1039.2px;top:162.00px;font-size:13px;color:#131722;font-weight:normal;">100,000</div>
<div class="t" style="left:1039.2px;top:198.00px;font-size:13px;color:#131722;font-weight:normal;">90,000</div>
<div class="t" style="left:1039.2px;top:235.00px;font-size:13px;color:#131722;font-weight:normal;">80,000</div>
<div class="t" style="left:1039.2px;top:272.00px;font-size:13px;color:#131722;font-weight:normal;">70,000</div>
<div class="t" style="left:1039.2px;top:345.00px;font-size:13px;color:#131722;font-weight:normal;">50,000</div>
<div class="t" style="left:1039.2px;top:382.00px;font-size:13px;color:#131722;font-weight:normal;">40,000</div>
<div class="t" style="left:1039.2px;top:419.00px;font-size:13px;color:#131722;font-weight:normal;">30,000</div>
<div class="t" style="left:1039.2px;top:456.00px;font-size:13px;color:#131722;font-weight:normal;">20,000</div>
<div class="t" style="left:1038.3px;top:479.30px;font-size:13px;color:#131722;font-weight:normal;">12,000</div>
<div class="t" style="left:1038.3px;top:520.30px;font-size:13px;color:#131722;font-weight:normal;">8,000</div>
<div class="t" style="left:1038.3px;top:561.30px;font-size:13px;color:#131722;font-weight:normal;">4,000</div>
<div class="t" style="left:1038.3px;top:642.30px;font-size:13px;color:#131722;font-weight:normal;">−4,000</div>
<div class="t" style="left:1038.3px;top:683.30px;font-size:13px;color:#131722;font-weight:normal;">−8,000</div>
<div class="t" style="left:50.5px;top:738.10px;font-size:13px;color:#131722;font-weight:bold;letter-spacing:0.5px;transform:translateX(-50%);">2024</div>
<div class="t" style="left:118.5px;top:738.94px;font-size:12px;color:#131722;font-weight:normal;transform:translateX(-50%);">Mar</div>
<div class="t" style="left:187.5px;top:738.94px;font-size:12px;color:#131722;font-weight:normal;transform:translateX(-50%);">May</div>
<div class="t" style="left:248.5px;top:738.94px;font-size:12px;color:#131722;font-weight:normal;transform:translateX(-50%);">Jul</div>
<div class="t" style="left:316.5px;top:738.94px;font-size:12px;color:#131722;font-weight:normal;transform:translateX(-50%);">Sep</div>
<div class="t" style="left:384.5px;top:738.94px;font-size:12px;color:#131722;font-weight:normal;transform:translateX(-50%);">Nov</div>
<div class="t" style="left:453.5px;top:738.10px;font-size:13px;color:#131722;font-weight:bold;letter-spacing:0.5px;transform:translateX(-50%);">2025</div>
<div class="t" style="left:514.5px;top:738.94px;font-size:12px;color:#131722;font-weight:normal;transform:translateX(-50%);">Mar</div>
<div class="t" style="left:582.5px;top:738.94px;font-size:12px;color:#131722;font-weight:normal;transform:translateX(-50%);">May</div>
<div class="t" style="left:651.5px;top:738.94px;font-size:12px;color:#131722;font-weight:normal;transform:translateX(-50%);">Jul</div>
<div class="t" style="left:711.5px;top:738.94px;font-size:12px;color:#131722;font-weight:normal;transform:translateX(-50%);">Sep</div>
<div class="t" style="left:780.5px;top:738.94px;font-size:12px;color:#131722;font-weight:normal;transform:translateX(-50%);">Nov</div>
<div class="t" style="left:848.5px;top:738.10px;font-size:13px;color:#131722;font-weight:bold;letter-spacing:0.5px;transform:translateX(-50%);">2026</div>
<div class="t" style="left:909.5px;top:738.94px;font-size:12px;color:#131722;font-weight:normal;transform:translateX(-50%);">Mar</div>
<div class="t" style="left:978.5px;top:738.94px;font-size:12px;color:#131722;font-weight:normal;transform:translateX(-50%);">May</div>
<svg width="1107" height="818" viewBox="0 0 1107 818">

<g>
  <path d="M 938.3 434.0 A 10.1 10.1 0 1 1 940.4 445.6" fill="none" stroke="#9C27B0" stroke-width="1.2"/>
  <path d="M 950.3 433.8 L 943.7 438.6 L 951.0 438.3 L 944.6 443.4" fill="none" stroke="#9C27B0" stroke-width="1.6" stroke-linejoin="miter" stroke-linecap="round"/>
  <path d="M 937.0 437.0 Q 938.0 440.7 941.8 441.7 Q 938.0 442.7 937.0 446.6 Q 936.0 442.7 932.1 441.7 Q 936.0 440.7 937.0 437.0 Z" fill="#7B5CFF"/>
</g>
<g>
  <circle cx="947" cy="463" r="10.5" fill="#fff" stroke="#F23645" stroke-width="1.3"/>
  <clipPath id="fc"><circle cx="947" cy="463" r="8.1"/></clipPath>
  <g clip-path="url(#fc)">
    <rect x="938" y="454" width="18" height="18" fill="#fff"/>
    <rect x="938" y="454" width="18" height="4.4" fill="#F04848"/>
    <rect x="938" y="461.2" width="18" height="3.8" fill="#F04848"/>
    <rect x="938" y="467.4" width="18" height="3.2" fill="#F04848"/>
    <rect x="938" y="454" width="10.9" height="11" fill="#2F7DE1"/>
    <g fill="#fff" fill-opacity="0.85">
      <circle cx="941.4" cy="456.9" r="0.5"/><circle cx="943.9" cy="456.9" r="0.5"/><circle cx="946.4" cy="456.9" r="0.5"/>
      <circle cx="941.4" cy="459.6" r="0.5"/><circle cx="943.9" cy="459.6" r="0.5"/><circle cx="946.4" cy="459.6" r="0.5"/>
      <circle cx="941.4" cy="462.3" r="0.5"/><circle cx="943.9" cy="462.3" r="0.5"/><circle cx="946.4" cy="462.3" r="0.5"/>
    </g>
  </g>
</g>

<rect x="972" y="274.2" width="57" height="16.5" rx="2" fill="#089981"/>
<path d="M1030.2 274.2 H1083 Q1085 274.2 1085 276.2 V304.9 H1030.2 Z" fill="#089981"/>
<path d="M1030.2 304.9 H1085 V320 Q1085 322 1083 322 H1030.2 Z" fill="#2962FF"/>
<rect x="1029.9" y="602.8" width="44.1" height="16.8" fill="#FFCDD2"/>
<path d="M1029.9 688.5 H1082.8 Q1084.8 688.5 1084.8 690.5 V704.9 H1029.9 Z" fill="#FF6D00"/>
<path d="M1029.9 704.9 H1084.8 V719.9 Q1084.8 721.9 1082.8 721.9 H1029.9 Z" fill="#2962FF"/>

<g fill="#131722">
  <path d="M12.05 780 H24 V794.9 H18 V785.8 H12.05 Z"/>
  <circle cx="28.85" cy="783" r="3"/>
  <path d="M35.35 780 H41.86 L35.9 794.9 H29.1 Z"/>
</g>

</svg>
<div class="t" style="left:976.4px;top:276.70px;font-size:11.7px;color:#fff;font-weight:normal;">BTCUSD</div>
<div class="t" style="left:1038.4px;top:274.90px;font-size:13px;color:#fff;font-weight:normal;">69,206</div>
<div class="t" style="left:1038.4px;top:288.80px;font-size:13px;color:rgba(255,255,255,0.78);font-weight:normal;">6d 16h</div>
<div class="t" style="left:1038.4px;top:305.70px;font-size:13px;color:#fff;font-weight:normal;">68,320</div>
<div class="t" style="left:1038px;top:605.00px;font-size:13px;color:#131722;font-weight:normal;">−262</div>
<div class="t" style="left:1038px;top:689.00px;font-size:13px;color:#fff;font-weight:normal;">−8,575</div>
<div class="t" style="left:1038px;top:706.10px;font-size:13px;color:#fff;font-weight:normal;">−8,837</div>
<div style="position:absolute;left:1030px;top:28px;width:66px;height:33.6px;background:#fff"></div>
<div style="position:absolute;left:1032.8px;top:30.4px;width:60px;height:26.8px;box-sizing:border-box;border:2px solid #f0f0f0;border-radius:5px;background:#fff"></div>
<div class="t" style="left:1042.8px;top:38.01px;font-size:11.8px;color:#131722;font-weight:normal;">USD</div>
<div class="t" style="left:49px;top:777.60px;font-size:21.5px;color:#131722;font-weight:bold;letter-spacing:-0.5px;">TradingView</div>
</body></html>
